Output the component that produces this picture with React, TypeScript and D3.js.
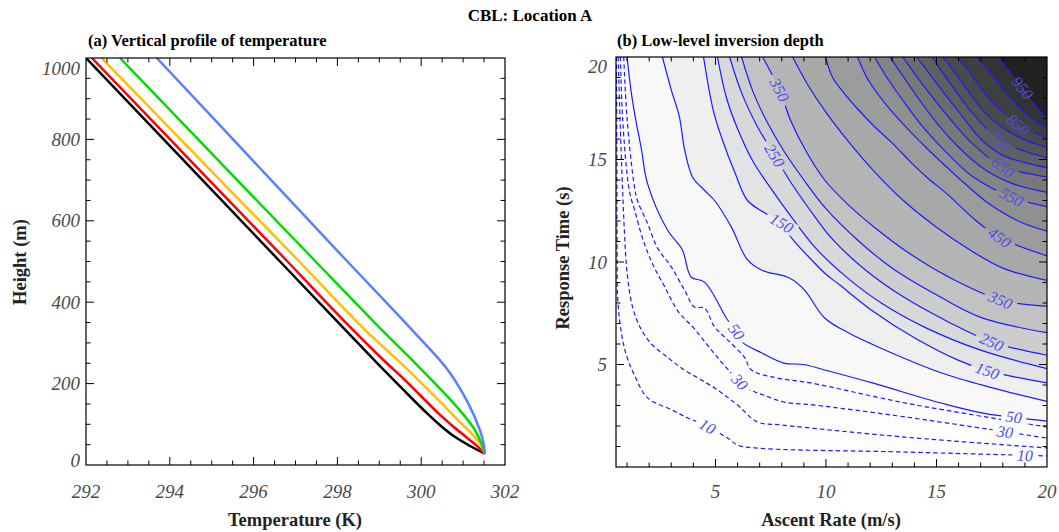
import React from 'react';
import * as d3 from 'd3';

// ---------- panel (a): temperature profiles, [temperature K, height m]
const profileBlack = [[292.0, 1000], [294.78, 700], [296.63, 500], [298.0, 352], [299.0, 245], [299.62, 180], [300.13, 128], [300.47, 96], [300.82, 68], [301.18, 46], [301.52, 28]];
const profileRed = [[292.14, 1000], [294.94, 700], [296.81, 500], [298.2, 350], [299.1, 258], [299.65, 205], [300.4, 128], [300.75, 96], [301.07, 69], [301.33, 47], [301.52, 28]];
const profileOrange = [[292.37, 1000], [295.2, 700], [297.09, 500], [298.66, 332], [299.61, 241], [300.57, 143], [300.95, 103], [301.28, 69], [301.45, 45], [301.52, 28]];
const profileGreen = [[292.81, 1000], [295.61, 700], [297.48, 500], [299.06, 332], [299.85, 251], [300.64, 167], [301.0, 125], [301.28, 86], [301.45, 50], [301.52, 28]];
const profileBlue = [[293.69, 1000], [296.42, 700], [298.24, 500], [299.78, 332], [300.64, 233], [301.12, 152], [301.4, 86], [301.49, 52], [301.52, 28]];

const tempTicks = [292, 294, 296, 298, 300, 302];
const heightTicks = [0, 200, 400, 600, 800, 1000];

// ---------- panel (b): inversion depth contours, [ascent rate m/s, response time s]
const c10 = [[0.52, 20], [0.54, 15], [0.55, 10.5], [0.58, 8.15], [0.75, 6.5], [0.97, 5.45], [1.33, 4.49], [1.93, 3.37], [3.0, 2.8], [3.75, 2.39], [4.52, 2.05], [5.55, 1.41], [6.0, 1.07], [6.9, 0.92], [13.6, 0.73], [20, 0.54]];
const c20 = [[0.6, 20], [0.68, 17], [0.8, 13.5], [0.88, 11.5], [1.0, 9.5], [1.25, 7.8], [1.6, 6.8], [2.1, 6.0], [2.7, 5.46], [3.46, 4.83], [4.96, 3.85], [6.0, 3.02], [6.9, 2.2], [8.0, 2.05], [13.56, 1.46], [20, 0.93]];
const c30 = [[0.7, 20], [0.8, 17], [1.1, 13.5], [1.35, 12.5], [1.75, 11], [2.2, 9.8], [2.7, 8.8], [3.3, 7.6], [4.0, 6.8], [4.6, 6.0], [5.2, 5.2], [5.7, 4.6], [6.1, 4.15], [6.6, 3.75], [7.2, 3.5], [8.1, 3.17], [9.5, 3.02], [13.6, 2.44], [20, 1.41]];
const c40 = [[0.85, 20], [1.0, 17], [1.33, 13.7], [1.47, 13.0], [1.92, 11.9], [2.37, 10.7], [3.0, 9.76], [3.6, 8.63], [4.05, 7.8], [4.5, 7.76], [4.96, 6.83], [5.55, 6.2], [6.3, 5.37], [6.63, 4.73], [7.8, 4.34], [9.3, 4.1], [13.6, 3.12], [20, 1.95]];
const c50 = [[1.0, 20], [1.2, 18.2], [1.4, 16.9], [1.65, 15.5], [1.92, 13.85], [2.83, 11.56], [3.5, 10.6], [3.9, 9.27], [4.5, 9.02], [5.55, 7.17], [5.95, 6.6], [6.2, 6.1], [7.1, 5.56], [8.1, 5.07], [9.0, 5.0], [9.94, 4.73], [12.1, 4.1], [15.2, 3.12], [17.1, 2.63], [20, 2.24]];
const c100 = [[2.6, 20], [3.0, 18.4], [3.37, 17.07], [3.6, 15.5], [3.96, 14.15], [4.5, 13.5], [4.96, 13.0], [5.72, 11.7], [6.45, 10.1], [7.1, 9.6], [8.35, 9.22], [9.03, 8.63], [9.94, 7.27], [11.1, 6.5], [12.9, 5.6], [15.2, 4.6], [17.4, 3.9], [20, 3.2]];
const c150 = [[4.46, 20], [4.9, 17.4], [5.3, 16.0], [5.9, 14.3], [6.45, 13.0], [7.22, 12.4], [8.0, 11.9], [8.45, 11.17], [9.35, 10.1], [10.0, 9.4], [10.6, 8.9], [12, 7.7], [14, 6.3], [16, 5.2], [17.3, 4.7], [20, 4.1]];
const c200 = [[5.09, 20], [5.5, 18.0], [6.0, 16.5], [6.7, 14.9], [7.5, 13.6], [8.5, 12.1], [9.6, 10.6], [11, 9.2], [12.5, 8.0], [14.5, 6.8], [17, 5.7], [20, 4.8]];
const c250 = [[5.64, 20], [6.2, 18.2], [6.9, 16.6], [7.68, 15.2], [8.4, 13.9], [9.3, 12.5], [10.3, 11.1], [11.8, 9.6], [13.5, 8.3], [15.5, 7.1], [17.5, 6.1], [20, 5.45]];
const c300 = [[6.18, 20], [6.7, 18.3], [7.3, 16.9], [8.1, 15.4], [9.0, 14.0], [10.0, 12.6], [11.5, 11.0], [13, 9.7], [15, 8.4], [17, 7.3], [20, 6.55]];
const c350 = [[7.13, 20], [7.9, 18.4], [8.4, 16.9], [9.1, 15.4], [9.94, 14.0], [11, 12.8], [12.3, 11.6], [13.8, 10.4], [15.5, 9.3], [17.9, 8.15], [20, 7.85]];
const c400 = [[8.49, 20], [9.2, 18.6], [10.0, 17.3], [11, 15.9], [12.2, 14.4], [13.5, 13.0], [15, 11.7], [16.5, 10.6], [18, 9.7], [20, 9.1]];
const c450 = [[9.98, 20], [10.3, 19.0], [10.7, 18.4], [11.4, 17.5], [12.2, 16.6], [13.0, 15.8], [13.9, 14.8], [14.6, 14.1], [15.5, 13.3], [16.7, 12.1], [17.85, 11.2], [20, 10.3]];
const c500 = [[11.43, 20], [11.9, 18.9], [12.7, 17.7], [13.6, 16.6], [14.7, 15.4], [16.0, 14.1], [17.3, 12.9], [18.7, 12.0], [20, 11.5]];
const c550 = [[12.2, 20], [12.7, 19.1], [13.4, 18.0], [14.3, 16.7], [15.4, 15.4], [16.6, 14.2], [18.4, 13.17], [20, 12.7]];
const c600 = [[12.89, 20], [13.4, 19.2], [14.1, 18.1], [15.0, 16.8], [16.0, 15.6], [17.2, 14.5], [18.5, 13.8], [20, 13.4]];
const c650 = [[13.47, 20], [14.0, 19.2], [14.7, 18.2], [15.6, 17.0], [16.6, 15.8], [18.0, 14.63], [19, 14.35], [20, 14.15]];
const c700 = [[14.1, 20], [14.6, 19.3], [15.3, 18.3], [16.1, 17.2], [17.0, 16.0], [18.0, 15.2], [19, 14.85], [20, 14.6]];
const c750 = [[14.8, 20], [15.3, 19.2], [15.9, 18.3], [16.6, 17.3], [17.85, 15.95], [19, 15.4], [20, 15.1]];
const c800 = [[15.29, 20], [15.8, 19.3], [16.4, 18.4], [17.1, 17.4], [18.0, 16.55], [19, 15.95], [20, 15.6]];
const c850 = [[15.93, 20], [16.4, 19.4], [17.0, 18.5], [17.7, 17.6], [18.7, 16.7], [20, 16.05]];
const c900 = [[16.8, 20], [17.3, 19.4], [17.9, 18.6], [18.5, 17.8], [19.2, 17.1], [20, 16.5]];
const c950 = [[17.8, 20], [18.3, 19.3], [18.9, 18.5], [19.5, 17.6], [20, 16.95]];

const contourLevels = [10, 20, 30, 40, 50, 100, 150, 200, 250, 300, 350, 400, 450, 500, 550, 600, 650, 700, 750, 800, 850, 900, 950];
const contourLines = [c10, c20, c30, c40, c50, c100, c150, c200, c250, c300, c350, c400, c450, c500, c550, c600, c650, c700, c750, c800, c850, c900, c950];

// where the labels sit: [level, ascent rate]
const contourLabels = [
  [10, 4.64], [10, 19.0], [30, 6.1], [30, 18.1], [50, 5.95], [50, 18.5],
  [150, 8.0], [150, 17.3], [250, 7.68], [250, 17.5], [350, 7.9], [350, 17.9],
  [450, 17.85], [550, 18.4], [650, 18.0], [750, 17.85], [850, 18.7], [950, 18.9],
];

const rateTicks = [5, 10, 15, 20];
const timeTicks = [5, 10, 15, 20];

// styles
const profileColors = ['#000000', '#ff0000', '#ffbf00', '#00dd00', '#5b80ff'];
const bandGray = ['#fdfdfd', '#fdfdfd', '#fcfcfc', '#fbfbfb', '#f8f8f8', '#efefef', '#e3e3e3', '#d8d8d8', '#cdcdcd', '#c2c2c2', '#b5b5b5', '#a8a8a8', '#9c9c9c', '#909090', '#848484', '#787878', '#6c6c6c', '#606060', '#555555', '#4a4a4a', '#3f3f3f', '#333333', '#212121'];
const serif = "'Liberation Serif', 'Times New Roman', serif";
const tickGray = '#4a4a4a';

function placeOnLine(pts, xv, sx, sy) {
  for (let i = 0; i < pts.length - 1; i++) {
    const [xa, ya] = pts[i];
    const [xb, yb] = pts[i + 1];
    if (xv >= xa && xv <= xb) {
      const t = xb === xa ? 0 : (xv - xa) / (xb - xa);
      const px1 = sx(xa), py1 = sy(ya), px2 = sx(xb), py2 = sy(yb);
      let ang = Math.atan2(py2 - py1, px2 - px1) * 180 / Math.PI;
      if (ang > 90) ang -= 180;
      if (ang < -90) ang += 180;
      return { x: px1 + t * (px2 - px1), y: py1 + t * (py2 - py1), ang };
    }
  }
  return null;
}

function Ticks({ x0, x1, y0, y1, xMaj, xMin, yMaj, yMin }) {
  const out = [];
  const seg = (k, a, b, c, d) => out.push(<line key={k} x1={a} y1={b} x2={c} y2={d} stroke="#000" strokeWidth={1} />);
  xMaj.forEach((x, i) => { seg('xb' + i, x, y1, x, y1 - 8); seg('xt' + i, x, y0, x, y0 + 8); });
  xMin.forEach((x, i) => { seg('xmb' + i, x, y1, x, y1 - 4.5); seg('xmt' + i, x, y0, x, y0 + 4.5); });
  yMaj.forEach((y, i) => { seg('yl' + i, x0, y, x0 + 8, y); seg('yr' + i, x1, y, x1 - 8, y); });
  yMin.forEach((y, i) => { seg('yml' + i, x0, y, x0 + 4.5, y); seg('ymr' + i, x1, y, x1 - 4.5, y); });
  return <g>{out}</g>;
}

export default function App() {
  // panel (a) scales
  const xT = d3.scaleLinear().domain([292, 302]).range([86, 505]);
  const yH = d3.scaleLinear().domain([0, 1000]).range([465, 58]);
  // panel (b) scales
  const xR = d3.scaleLinear().domain([0.5, 20]).range([616, 1047]);
  const yR = d3.scaleLinear().domain([0, 20]).range([467, 57]);

  const profLine = d3.line().x(d => xT(d[0])).y(d => yH(d[1])).curve(d3.curveCatmullRom.alpha(0.5));
  const cLine = d3.line().x(d => xR(d[0])).y(d => yR(d[1])).curve(d3.curveCatmullRom.alpha(0.5));

  const profiles = [profileBlack, profileRed, profileOrange, profileGreen, profileBlue];

  const tMinor = d3.range(292.5, 302, 0.5).filter(v => Math.abs(v % 2) > 0.01);
  const hMinor = d3.range(50, 1000, 50).filter(v => v % 200 !== 0);
  const rMinor = d3.range(1, 20, 1).filter(v => v % 5 !== 0);
  const sMinor = d3.range(1, 20, 1).filter(v => v % 5 !== 0);

  const labels = contourLabels.map(([lev, xv], i) => {
    const idx = contourLevels.indexOf(lev);
    const p = placeOnLine(contourLines[idx], xv, xR, yR);
    return { lev, i, ...p };
  }).filter(d => d.x !== undefined);

  return (
    <svg width={1059} height={532} style={{ position: 'absolute', left: 0, top: 0, display: 'block', background: '#fff' }} fontFamily={serif}>
      <defs>
        <clipPath id="clipA"><rect x={86} y={58} width={419} height={407} /></clipPath>
        <clipPath id="clipB"><rect x={616} y={57} width={431} height={410} /></clipPath>
        <mask id="lblMask" maskUnits="userSpaceOnUse" x={600} y={40} width={460} height={440}>
          <rect x={600} y={40} width={460} height={440} fill="#fff" />
          {labels.map(d => {
            const w = String(d.lev).length * 8.5 + 8;
            return (
              <rect key={'m' + d.i} x={-w / 2} y={-6.5} width={w} height={13}
                fill="#000" transform={`translate(${d.x},${d.y}) rotate(${d.ang})`} />
            );
          })}
        </mask>
      </defs>

      {/* main title */}
      <text x={530} y={21} textAnchor="middle" fontWeight="bold" fontSize={17}>CBL: Location A</text>

      {/* ---------- panel (a) ---------- */}
      <text x={88} y={46} fontWeight="bold" fontSize={16.5}>(a) Vertical profile of temperature</text>
      <g clipPath="url(#clipA)">
        {profiles.map((p, i) => (
          <path key={i} d={profLine(p)} fill="none" stroke={profileColors[i]} strokeWidth={2.5} strokeLinejoin="round" />
        ))}
      </g>
      <rect x={86} y={58} width={419} height={407} fill="none" stroke="#000" strokeWidth={1.2} />
      <Ticks x0={86} x1={505} y0={58} y1={465}
        xMaj={tempTicks.slice(1, -1).map(xT)} xMin={tMinor.map(xT)}
        yMaj={heightTicks.slice(1, -1).map(yH)} yMin={hMinor.map(yH)} />
      {tempTicks.map(t => (
        <text key={t} x={xT(t)} y={498} textAnchor="middle" fontStyle="italic" fontSize={19} fill={tickGray}>{t}</text>
      ))}
      {heightTicks.map(h => (
        <text key={h} x={80} y={Math.min(Math.max(yH(h), 68), 460) + 6.5} textAnchor="end" fontStyle="italic" fontSize={19} fill={tickGray}>{h}</text>
      ))}
      <text x={295} y={526} textAnchor="middle" fontWeight="bold" fontSize={18.5} fill="#222">Temperature (K)</text>
      <text transform="translate(26,262) rotate(-90)" textAnchor="middle" fontWeight="bold" fontSize={18.5} fill="#222">Height (m)</text>

      {/* ---------- panel (b) ---------- */}
      <text x={617} y={46} fontWeight="bold" fontSize={16.5}>(b) Low-level inversion depth</text>
      <g clipPath="url(#clipB)">
        <rect x={616} y={57} width={431} height={410} fill="#fefefe" />
        {contourLines.map((pts, i) => (
          <path key={'f' + i} d={cLine(pts) + `L${xR(20) + 2},${yR(pts[pts.length - 1][1])}L${xR(20) + 2},${yR(20) - 2}L${xR(pts[0][0])},${yR(20) - 2}Z`}
            fill={bandGray[i]} stroke="none" />
        ))}
        <g mask="url(#lblMask)">
          {contourLines.map((pts, i) => (
            <path key={'l' + i} d={cLine(pts)} fill="none" stroke="#1a1aff" strokeWidth={1.2}
              strokeDasharray={contourLevels[i] < 50 ? '4.5 3' : null} />
          ))}
        </g>
        {labels.map(d => (
          <text key={'t' + d.i} transform={`translate(${d.x},${d.y}) rotate(${d.ang})`} textAnchor="middle" dy="0.35em"
            fontStyle="italic" fontSize={16} fill="#4c4cee">{d.lev}</text>
        ))}
      </g>
      <rect x={616} y={57} width={431} height={410} fill="none" stroke="#000" strokeWidth={1.2} />
      <Ticks x0={616} x1={1047} y0={57} y1={467}
        xMaj={rateTicks.slice(0, -1).map(xR)} xMin={rMinor.map(xR)}
        yMaj={timeTicks.slice(0, -1).map(yR)} yMin={sMinor.map(yR)} />
      {rateTicks.map(t => (
        <text key={t} x={xR(t)} y={498} textAnchor="middle" fontStyle="italic" fontSize={19} fill={tickGray}>{t}</text>
      ))}
      {timeTicks.map(t => (
        <text key={t} x={607} y={Math.max(yR(t), 66) + 6.5} textAnchor="end" fontStyle="italic" fontSize={19} fill={tickGray}>{t}</text>
      ))}
      <text x={831} y={526} textAnchor="middle" fontWeight="bold" fontSize={18.5} fill="#222">Ascent Rate (m/s)</text>
      <text transform="translate(569,258) rotate(-90)" textAnchor="middle" fontWeight="bold" fontSize={18.5} fill="#222">Response Time (s)</text>
    </svg>
  );
}
